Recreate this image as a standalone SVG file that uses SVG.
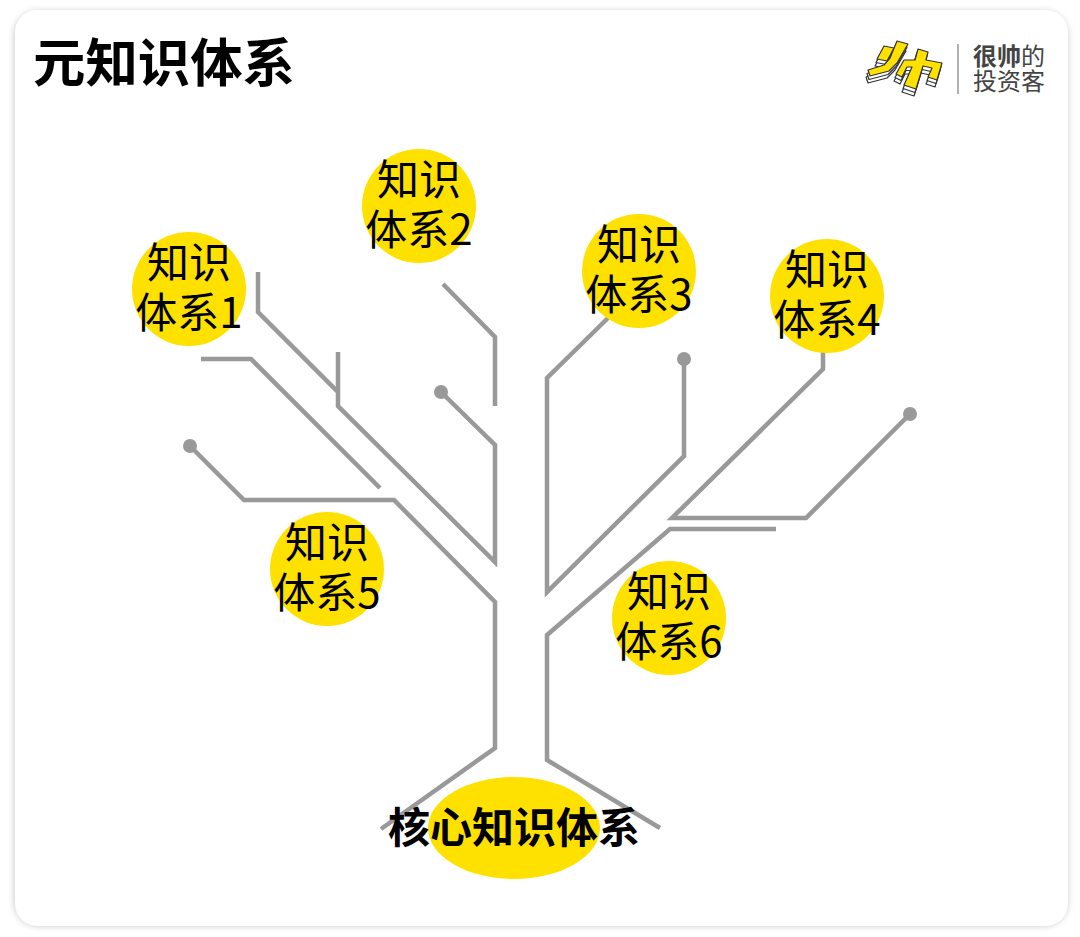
<svg xmlns="http://www.w3.org/2000/svg" width="1080" height="937" viewBox="0 0 1080 937">
<style>
.t{font-family:"Noto Sans CJK SC","Noto Sans",sans-serif;fill:#000}
.n{font-size:42px;text-anchor:middle}
.c{fill:#ffe100}
.l{fill:none;stroke:#999;stroke-width:4.5;stroke-linejoin:miter}
.d{fill:#999}
</style>
<defs>
<filter id="s" x="-3%" y="-3%" width="106%" height="106%"><feGaussianBlur stdDeviation="3"/></filter>
<g id="mark" stroke="#333" stroke-width="1.2" stroke-linejoin="round">
<path d="M877 59L884 46L894 48L887 61Z"/>
<path d="M897 41L908 44L897 63L889 71L870 76L868 70L884 65L890 58Z"/>
<path d="M904 60L915 60L918 49L928 52L926 60L942 63L937 80L928 77L932 68L923 66L916 89L904 85L912 67L907 67L902 77L896 74Z"/>
</g>
</defs>
<rect width="1080" height="937" fill="#fff"/>
<rect x="14" y="11" width="1054" height="915" rx="24" fill="#ccc" filter="url(#s)"/>
<rect x="15" y="10" width="1053" height="916" rx="22" fill="#fff"/>
<text class="t" x="33" y="82" font-size="52.4" font-weight="700">元知识体系</text>
<g id="logo">
<use href="#mark" x="-2" y="7" fill="#fff"/>
<use href="#mark" x="-1" y="3.5" fill="#fff"/>
<use href="#mark" x="0" y="0" fill="#ffe100"/>
<line x1="958" y1="44" x2="958" y2="94" stroke="#999" stroke-width="1.5"/>
<text class="t" x="973" y="65" font-size="24" font-weight="700" style="fill:#444">很帅<tspan font-weight="400">的</tspan></text>
<text class="t" x="973" y="90" font-size="24" style="fill:#444">投资客</text>
</g>
<g id="connectors">
<path class="l" d="M258 272V312L338 392V352M338 392V406L495 562V445L441 392"/>
<path class="l" d="M201 359H251L380 488"/>
<path class="l" d="M443 284L495 337V406"/>
<path class="l" d="M190 446L244 500H394L495 602V748L381 829"/>
<path class="l" d="M608 318L547 378V592L684 456V359"/>
<path class="l" d="M823 352V369L672 518H806L910 414"/>
<path class="l" d="M776 529H670L547 635V760L660 828"/>
<circle class="d" cx="190" cy="446" r="7"/>
<circle class="d" cx="441" cy="392" r="7"/>
<circle class="d" cx="684" cy="359" r="7"/>
<circle class="d" cx="910" cy="414" r="7"/>
</g>
<g id="node1"><circle class="c" cx="189" cy="289" r="57"/><text class="t n" x="189" y="278">知识</text><text class="t n" x="189" y="328">体系1</text></g>
<g id="node2"><circle class="c" cx="419" cy="206" r="57"/><text class="t n" x="419" y="195">知识</text><text class="t n" x="419" y="245">体系2</text></g>
<g id="node3"><circle class="c" cx="639" cy="271" r="57"/><text class="t n" x="639" y="260">知识</text><text class="t n" x="639" y="310">体系3</text></g>
<g id="node4"><circle class="c" cx="827" cy="296" r="57"/><text class="t n" x="827" y="285">知识</text><text class="t n" x="827" y="335">体系4</text></g>
<g id="node5"><circle class="c" cx="327" cy="569" r="57"/><text class="t n" x="327" y="558">知识</text><text class="t n" x="327" y="608">体系5</text></g>
<g id="node6"><circle class="c" cx="669" cy="618" r="57"/><text class="t n" x="669" y="607">知识</text><text class="t n" x="669" y="657">体系6</text></g>
<g id="core"><ellipse class="c" cx="514" cy="828" rx="86" ry="51"/><text class="t" x="514" y="843" font-size="42" font-weight="700" text-anchor="middle">核心知识体系</text></g>
</svg>
